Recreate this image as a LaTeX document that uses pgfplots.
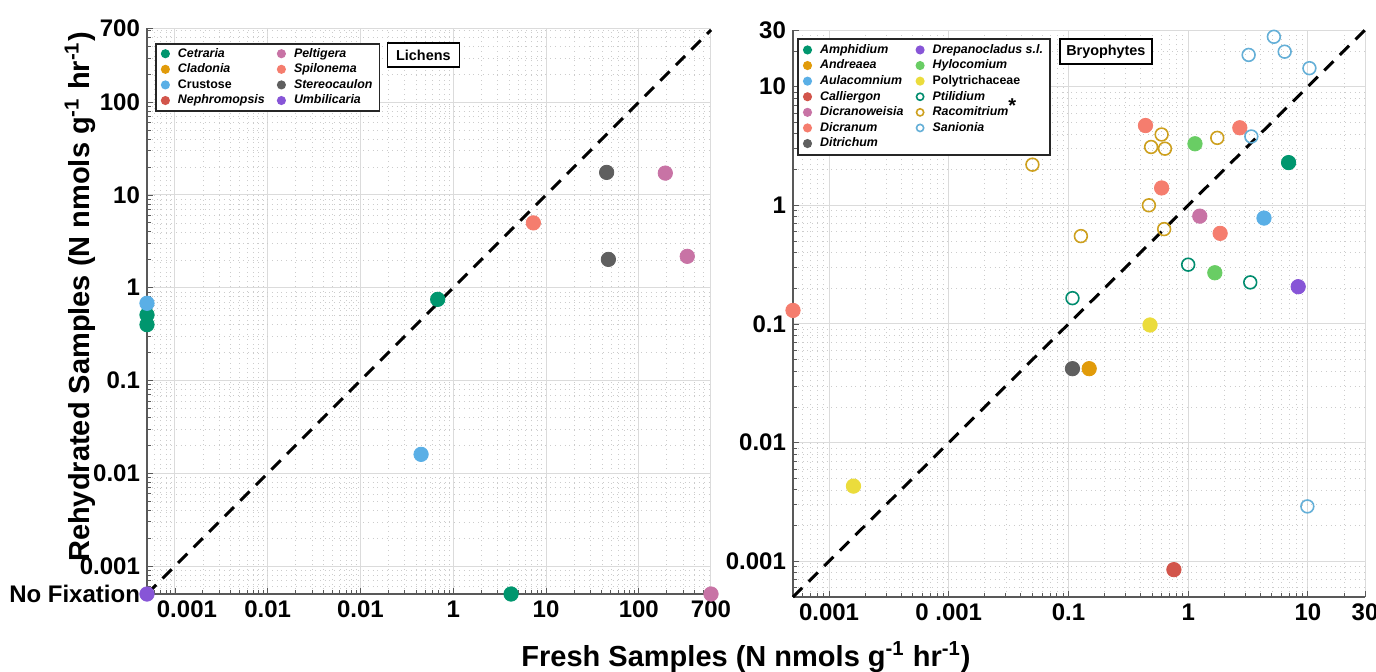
\documentclass[border=0pt]{standalone}
\usepackage{fontspec}
\setmainfont{Liberation Sans}
\usepackage{pgfplots}
\pgfplotsset{compat=1.18}

\definecolor{cgreen}{RGB}{0,150,110}
\definecolor{corange}{RGB}{225,155,10}
\definecolor{cblue}{RGB}{90,175,230}
\definecolor{cred}{RGB}{210,85,75}
\definecolor{cpink}{RGB}{200,115,165}
\definecolor{csalmon}{RGB}{245,125,110}
\definecolor{cgray}{RGB}{95,95,95}
\definecolor{cpurple}{RGB}{135,85,215}
\definecolor{clgreen}{RGB}{105,205,100}
\definecolor{cyellow}{RGB}{235,220,60}
\definecolor{cteal}{RGB}{0,140,110}
\definecolor{cochre}{RGB}{205,160,30}
\definecolor{csky}{RGB}{100,175,215}

\begin{document}
\begin{tikzpicture}
\useasboundingbox (-73.5pt,-38.5pt) rectangle (614.5pt,297pt);

% Lichens
\begin{axis}[
  xmode=log, ymode=log, scale only axis,
  at={(0pt,0pt)}, anchor=south west,
  width=282pt, height=283pt,
  xmin=0.0005, xmax=600, ymin=0.0005, ymax=630,
  axis x line=bottom, axis y line=left,
  axis line style={-, draw=black!65, line width=0.6pt},
  tick align=inside,
  major tick length=3pt, minor tick length=1.8pt,
  tick style={black!65, line width=0.4pt},
  grid=both,
  major grid style={draw=black!14, line width=0.5pt},
  minor grid style={draw=black!20, dotted, line width=0.3pt},
  ticklabel style={font=\bfseries\fontsize{12}{13}\selectfont},
  clip=false,
  xtick={0.001,0.01,0.1,1,10,100,600},
  xticklabels={\hspace{12pt}0.001,0.01,0.01,1,10,100,700},
  ytick={0.0005,0.001,0.01,0.1,1,10,100,630},
  yticklabels={No Fixation,0.001,0.01,0.1,1,10,100,700},
  minor xtick={6e-4,7e-4,8e-4,9e-4,2e-3,3e-3,4e-3,5e-3,6e-3,7e-3,8e-3,9e-3,0.02,0.03,0.04,0.05,0.06,0.07,0.08,0.09,0.2,0.3,0.4,0.5,0.6,0.7,0.8,0.9,2,3,4,5,6,7,8,9,20,30,40,50,60,70,80,90,200,300,400,500},
  minor ytick={6e-4,7e-4,8e-4,9e-4,2e-3,3e-3,4e-3,5e-3,6e-3,7e-3,8e-3,9e-3,0.02,0.03,0.04,0.05,0.06,0.07,0.08,0.09,0.2,0.3,0.4,0.5,0.6,0.7,0.8,0.9,2,3,4,5,6,7,8,9,20,30,40,50,60,70,80,90,200,300,400,500,600},
  legend cell align=left,
  legend columns=2,
  legend image post style={mark size=1.8pt},
  legend style={at={(0.014,0.974)}, anchor=north west,
    draw=black!85, line width=0.9pt, fill=white,
    font=\bfseries\itshape\fontsize{6.2}{7}\selectfont,
    nodes={inner sep=0.5pt, text height=4.7pt, text depth=1.4pt},
    inner xsep=3pt, inner ysep=1.5pt,
    row sep=0.7pt,
    /tikz/every odd column/.append style={column sep=4pt},
    /tikz/every even column/.append style={column sep=6pt}},
]
\addplot[forget plot, black, line width=1.5pt, dash pattern=on 6.5pt off 4.5pt] coordinates {(0.0005,0.0005) (600,600)};

\addplot[only marks, mark=*, mark size=3.6pt, cgreen] coordinates {(0.0005,0.51) (0.0005,0.40) (0.68,0.75) (4.2,0.0005)};
\addlegendentry{Cetraria}
\addplot[only marks, mark=*, mark size=3.6pt, cpink] coordinates {(193,17.2) (333,2.18) (600,0.0005)};
\addlegendentry{Peltigera}
\addlegendimage{only marks, mark=*, mark size=3.6pt, corange}
\addlegendentry{Cladonia}
\addplot[only marks, mark=*, mark size=3.6pt, csalmon] coordinates {(7.3,5.0)};
\addlegendentry{Spilonema}
\addplot[only marks, mark=*, mark size=3.6pt, cblue] coordinates {(0.0005,0.68) (0.45,0.016)};
\addlegendentry{\upshape Crustose}
\addplot[only marks, mark=*, mark size=3.6pt, cgray] coordinates {(45,17.5) (47,2.02)};
\addlegendentry{Stereocaulon}
\addlegendimage{only marks, mark=*, mark size=3.6pt, cred}
\addlegendentry{Nephromopsis}
\addplot[only marks, mark=*, mark size=3.6pt, cpurple] coordinates {(0.0005,0.0005)};
\addlegendentry{Umbilicaria}

\node[draw=black, line width=0.8pt, fill=white, inner sep=0pt,
  minimum width=36pt, minimum height=12pt,
  font=\bfseries\fontsize{7.2}{8}\selectfont]
  at (axis description cs:0.49,0.952) {Lichens};
\end{axis}

% Bryophytes
\begin{axis}[
  xmode=log, ymode=log, scale only axis,
  at={(323pt,-1.5pt)}, anchor=south west,
  width=286pt, height=283.5pt,
  xmin=0.0005, xmax=30, ymin=0.0005, ymax=30,
  axis x line=bottom, axis y line=left,
  axis line style={-, draw=black!65, line width=0.6pt},
  tick align=inside,
  major tick length=3pt, minor tick length=1.8pt,
  tick style={black!65, line width=0.4pt},
  grid=both,
  major grid style={draw=black!14, line width=0.5pt},
  minor grid style={draw=black!20, dotted, line width=0.3pt},
  ticklabel style={font=\bfseries\fontsize{12}{13}\selectfont},
  clip=false,
  xtick={0.001,0.01,0.1,1,10,30},
  xticklabels={0.001\hspace{17pt},0 .001\hspace{8pt},0.1,1,10,30},
  ytick={0.001,0.01,0.1,1,10,30},
  yticklabels={0.001,0.01,0.1,1,10,30},
  minor xtick={6e-4,7e-4,8e-4,9e-4,2e-3,3e-3,4e-3,5e-3,6e-3,7e-3,8e-3,9e-3,0.02,0.03,0.04,0.05,0.06,0.07,0.08,0.09,0.2,0.3,0.4,0.5,0.6,0.7,0.8,0.9,2,3,4,5,6,7,8,9,20},
  minor ytick={6e-4,7e-4,8e-4,9e-4,2e-3,3e-3,4e-3,5e-3,6e-3,7e-3,8e-3,9e-3,0.02,0.03,0.04,0.05,0.06,0.07,0.08,0.09,0.2,0.3,0.4,0.5,0.6,0.7,0.8,0.9,2,3,4,5,6,7,8,9,20},
  legend cell align=left,
  legend columns=2,
  legend image post style={mark size=1.8pt},
  legend style={at={(0.007,0.986)}, anchor=north west,
    draw=black!85, line width=0.9pt, fill=white,
    font=\bfseries\itshape\fontsize{6.2}{7}\selectfont,
    nodes={inner sep=0.5pt, text height=4.7pt, text depth=1.4pt},
    inner xsep=3pt, inner ysep=2pt,
    row sep=0.7pt,
    /tikz/every odd column/.append style={column sep=4pt},
    /tikz/every even column/.append style={column sep=6pt}},
]
\addplot[forget plot, black, line width=1.5pt, dash pattern=on 6.5pt off 4.5pt] coordinates {(0.0005,0.0005) (30,30)};

\addplot[only marks, mark=*, mark size=3.6pt, cgreen] coordinates {(6.9,2.29)};
\addlegendentry{Amphidium}
\addplot[only marks, mark=*, mark size=3.6pt, cpurple] coordinates {(8.3,0.206)};
\addlegendentry{Drepanocladus s.l.}
\addplot[only marks, mark=*, mark size=3.6pt, corange] coordinates {(0.149,0.042)};
\addlegendentry{Andreaea}
\addplot[only marks, mark=*, mark size=3.6pt, clgreen] coordinates {(1.14,3.3) (1.67,0.27)};
\addlegendentry{Hylocomium}
\addplot[only marks, mark=*, mark size=3.6pt, cblue] coordinates {(4.3,0.78)};
\addlegendentry{Aulacomnium}
\addplot[only marks, mark=*, mark size=3.6pt, cyellow] coordinates {(0.48,0.098) (0.0016,0.0043)};
\addlegendentry{\upshape Polytrichaceae}
\addplot[only marks, mark=*, mark size=3.6pt, cred] coordinates {(0.76,0.00085)};
\addlegendentry{Calliergon}
\addplot[only marks, mark=o, mark size=3.2pt, cteal, line width=0.8pt] coordinates {(1.0,0.316) (3.3,0.224) (0.108,0.165)};
\addlegendentry{Ptilidium}
\addplot[only marks, mark=*, mark size=3.6pt, cpink] coordinates {(1.25,0.81)};
\addlegendentry{Dicranoweisia}
\addplot[only marks, mark=o, mark size=3.2pt, cochre, line width=0.8pt] coordinates {(0.05,2.2) (0.6,3.95) (0.49,3.1) (0.64,3.0) (1.75,3.7) (0.47,1.0) (0.63,0.63) (0.127,0.55)};
\addlegendentry{Racomitrium\raisebox{1.5pt}{\upshape\fontsize{10}{10}\selectfont *}}
\addplot[only marks, mark=*, mark size=3.6pt, csalmon] coordinates {(0.0005,0.13) (0.44,4.7) (2.7,4.5) (0.6,1.40) (1.85,0.58)};
\addlegendentry{Dicranum}
\addplot[only marks, mark=o, mark size=3.2pt, csky, line width=0.8pt] coordinates {(5.2,26.3) (3.2,18.5) (6.4,19.7) (10.3,14.3) (3.37,3.8) (9.9,0.0029)};
\addlegendentry{Sanionia}
\addplot[only marks, mark=*, mark size=3.6pt, cgray] coordinates {(0.108,0.042)};
\addlegendentry{Ditrichum}

\node[draw=black, line width=0.8pt, fill=white, inner sep=0pt,
  minimum width=46pt, minimum height=12.5pt,
  font=\bfseries\fontsize{7.2}{8}\selectfont]
  at (axis description cs:0.547,0.962) {Bryophytes};
\end{axis}

\node[rotate=90, font=\bfseries\fontsize{14.5}{16}\selectfont]
  at (-33.5pt,148.5pt) {Rehydrated Samples (N nmols g\textsuperscript{-1} hr\textsuperscript{-1})};
\node[font=\bfseries\fontsize{14.5}{16}\selectfont]
  at (299.5pt,-31.5pt) {Fresh Samples (N nmols g\textsuperscript{-1} hr\textsuperscript{-1})};
\end{tikzpicture}
\end{document}
